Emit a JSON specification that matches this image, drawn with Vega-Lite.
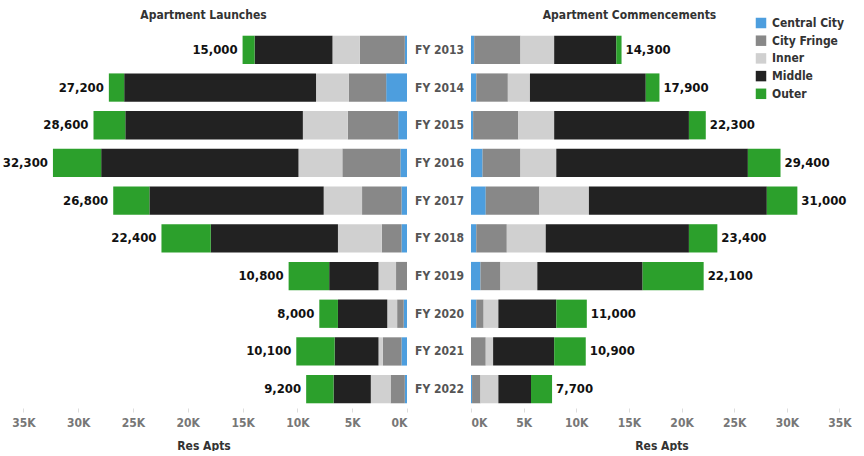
{
  "$schema": "https://vega.github.io/schema/vega-lite/v6.json",
  "autosize": {"type": "pad"},
  "padding": {"left": 0, "top": 9, "right": 0, "bottom": 0},
  "bounds": "flush",
  "spacing": 64,
  "config": {
    "font": "DejaVu Sans Condensed, Roboto, sans-serif",
    "view": {"stroke": null},
    "axis": {"labelFont": "DejaVu Sans Condensed, Roboto, sans-serif", "titleFont": "DejaVu Sans Condensed, Roboto, sans-serif"},
    "legend": {"labelFont": "DejaVu Sans Condensed, Roboto, sans-serif"},
    "title": {"font": "DejaVu Sans Condensed, Roboto, sans-serif"}
  },
  "datasets": {
    "apts": [
      {"panel": "Launches", "year": "FY 2013", "region": "Central City", "value": 200},
      {"panel": "Launches", "year": "FY 2013", "region": "City Fringe", "value": 4100},
      {"panel": "Launches", "year": "FY 2013", "region": "Inner", "value": 2500},
      {"panel": "Launches", "year": "FY 2013", "region": "Middle", "value": 7100},
      {"panel": "Launches", "year": "FY 2013", "region": "Outer", "value": 1100},
      {"panel": "Launches", "year": "FY 2014", "region": "Central City", "value": 1900},
      {"panel": "Launches", "year": "FY 2014", "region": "City Fringe", "value": 3400},
      {"panel": "Launches", "year": "FY 2014", "region": "Inner", "value": 3000},
      {"panel": "Launches", "year": "FY 2014", "region": "Middle", "value": 17500},
      {"panel": "Launches", "year": "FY 2014", "region": "Outer", "value": 1400},
      {"panel": "Launches", "year": "FY 2015", "region": "Central City", "value": 800},
      {"panel": "Launches", "year": "FY 2015", "region": "City Fringe", "value": 4600},
      {"panel": "Launches", "year": "FY 2015", "region": "Inner", "value": 4100},
      {"panel": "Launches", "year": "FY 2015", "region": "Middle", "value": 16200},
      {"panel": "Launches", "year": "FY 2015", "region": "Outer", "value": 2900},
      {"panel": "Launches", "year": "FY 2016", "region": "Central City", "value": 600},
      {"panel": "Launches", "year": "FY 2016", "region": "City Fringe", "value": 5300},
      {"panel": "Launches", "year": "FY 2016", "region": "Inner", "value": 4000},
      {"panel": "Launches", "year": "FY 2016", "region": "Middle", "value": 18000},
      {"panel": "Launches", "year": "FY 2016", "region": "Outer", "value": 4400},
      {"panel": "Launches", "year": "FY 2017", "region": "Central City", "value": 500},
      {"panel": "Launches", "year": "FY 2017", "region": "City Fringe", "value": 3600},
      {"panel": "Launches", "year": "FY 2017", "region": "Inner", "value": 3500},
      {"panel": "Launches", "year": "FY 2017", "region": "Middle", "value": 15900},
      {"panel": "Launches", "year": "FY 2017", "region": "Outer", "value": 3300},
      {"panel": "Launches", "year": "FY 2018", "region": "Central City", "value": 500},
      {"panel": "Launches", "year": "FY 2018", "region": "City Fringe", "value": 1800},
      {"panel": "Launches", "year": "FY 2018", "region": "Inner", "value": 4000},
      {"panel": "Launches", "year": "FY 2018", "region": "Middle", "value": 11600},
      {"panel": "Launches", "year": "FY 2018", "region": "Outer", "value": 4500},
      {"panel": "Launches", "year": "FY 2019", "region": "Central City", "value": 0},
      {"panel": "Launches", "year": "FY 2019", "region": "City Fringe", "value": 1000},
      {"panel": "Launches", "year": "FY 2019", "region": "Inner", "value": 1600},
      {"panel": "Launches", "year": "FY 2019", "region": "Middle", "value": 4500},
      {"panel": "Launches", "year": "FY 2019", "region": "Outer", "value": 3700},
      {"panel": "Launches", "year": "FY 2020", "region": "Central City", "value": 300},
      {"panel": "Launches", "year": "FY 2020", "region": "City Fringe", "value": 600},
      {"panel": "Launches", "year": "FY 2020", "region": "Inner", "value": 900},
      {"panel": "Launches", "year": "FY 2020", "region": "Middle", "value": 4500},
      {"panel": "Launches", "year": "FY 2020", "region": "Outer", "value": 1700},
      {"panel": "Launches", "year": "FY 2021", "region": "Central City", "value": 500},
      {"panel": "Launches", "year": "FY 2021", "region": "City Fringe", "value": 1700},
      {"panel": "Launches", "year": "FY 2021", "region": "Inner", "value": 400},
      {"panel": "Launches", "year": "FY 2021", "region": "Middle", "value": 4000},
      {"panel": "Launches", "year": "FY 2021", "region": "Outer", "value": 3500},
      {"panel": "Launches", "year": "FY 2022", "region": "Central City", "value": 200},
      {"panel": "Launches", "year": "FY 2022", "region": "City Fringe", "value": 1300},
      {"panel": "Launches", "year": "FY 2022", "region": "Inner", "value": 1800},
      {"panel": "Launches", "year": "FY 2022", "region": "Middle", "value": 3400},
      {"panel": "Launches", "year": "FY 2022", "region": "Outer", "value": 2500},
      {"panel": "Commencements", "year": "FY 2013", "region": "Central City", "value": 300},
      {"panel": "Commencements", "year": "FY 2013", "region": "City Fringe", "value": 4400},
      {"panel": "Commencements", "year": "FY 2013", "region": "Inner", "value": 3200},
      {"panel": "Commencements", "year": "FY 2013", "region": "Middle", "value": 5900},
      {"panel": "Commencements", "year": "FY 2013", "region": "Outer", "value": 500},
      {"panel": "Commencements", "year": "FY 2014", "region": "Central City", "value": 500},
      {"panel": "Commencements", "year": "FY 2014", "region": "City Fringe", "value": 3000},
      {"panel": "Commencements", "year": "FY 2014", "region": "Inner", "value": 2100},
      {"panel": "Commencements", "year": "FY 2014", "region": "Middle", "value": 11000},
      {"panel": "Commencements", "year": "FY 2014", "region": "Outer", "value": 1300},
      {"panel": "Commencements", "year": "FY 2015", "region": "Central City", "value": 200},
      {"panel": "Commencements", "year": "FY 2015", "region": "City Fringe", "value": 4300},
      {"panel": "Commencements", "year": "FY 2015", "region": "Inner", "value": 3400},
      {"panel": "Commencements", "year": "FY 2015", "region": "Middle", "value": 12800},
      {"panel": "Commencements", "year": "FY 2015", "region": "Outer", "value": 1600},
      {"panel": "Commencements", "year": "FY 2016", "region": "Central City", "value": 1100},
      {"panel": "Commencements", "year": "FY 2016", "region": "City Fringe", "value": 3600},
      {"panel": "Commencements", "year": "FY 2016", "region": "Inner", "value": 3400},
      {"panel": "Commencements", "year": "FY 2016", "region": "Middle", "value": 18200},
      {"panel": "Commencements", "year": "FY 2016", "region": "Outer", "value": 3100},
      {"panel": "Commencements", "year": "FY 2017", "region": "Central City", "value": 1400},
      {"panel": "Commencements", "year": "FY 2017", "region": "City Fringe", "value": 5100},
      {"panel": "Commencements", "year": "FY 2017", "region": "Inner", "value": 4700},
      {"panel": "Commencements", "year": "FY 2017", "region": "Middle", "value": 16900},
      {"panel": "Commencements", "year": "FY 2017", "region": "Outer", "value": 2900},
      {"panel": "Commencements", "year": "FY 2018", "region": "Central City", "value": 500},
      {"panel": "Commencements", "year": "FY 2018", "region": "City Fringe", "value": 2900},
      {"panel": "Commencements", "year": "FY 2018", "region": "Inner", "value": 3700},
      {"panel": "Commencements", "year": "FY 2018", "region": "Middle", "value": 13600},
      {"panel": "Commencements", "year": "FY 2018", "region": "Outer", "value": 2700},
      {"panel": "Commencements", "year": "FY 2019", "region": "Central City", "value": 900},
      {"panel": "Commencements", "year": "FY 2019", "region": "City Fringe", "value": 1900},
      {"panel": "Commencements", "year": "FY 2019", "region": "Inner", "value": 3500},
      {"panel": "Commencements", "year": "FY 2019", "region": "Middle", "value": 10000},
      {"panel": "Commencements", "year": "FY 2019", "region": "Outer", "value": 5800},
      {"panel": "Commencements", "year": "FY 2020", "region": "Central City", "value": 500},
      {"panel": "Commencements", "year": "FY 2020", "region": "City Fringe", "value": 700},
      {"panel": "Commencements", "year": "FY 2020", "region": "Inner", "value": 1400},
      {"panel": "Commencements", "year": "FY 2020", "region": "Middle", "value": 5500},
      {"panel": "Commencements", "year": "FY 2020", "region": "Outer", "value": 2900},
      {"panel": "Commencements", "year": "FY 2021", "region": "Central City", "value": 0},
      {"panel": "Commencements", "year": "FY 2021", "region": "City Fringe", "value": 1400},
      {"panel": "Commencements", "year": "FY 2021", "region": "Inner", "value": 700},
      {"panel": "Commencements", "year": "FY 2021", "region": "Middle", "value": 5800},
      {"panel": "Commencements", "year": "FY 2021", "region": "Outer", "value": 3000},
      {"panel": "Commencements", "year": "FY 2022", "region": "Central City", "value": 100},
      {"panel": "Commencements", "year": "FY 2022", "region": "City Fringe", "value": 800},
      {"panel": "Commencements", "year": "FY 2022", "region": "Inner", "value": 1700},
      {"panel": "Commencements", "year": "FY 2022", "region": "Middle", "value": 3100},
      {"panel": "Commencements", "year": "FY 2022", "region": "Outer", "value": 2000}
    ]
  },
  "hconcat": [
    {
      "width": 407,
      "height": 377,
      "data": {"name": "apts"},
      "transform": [{"filter": "datum.panel === 'Launches'"}],
      "title": {"text": "Apartment Launches", "fontSize": 12, "fontWeight": "bold", "color": "#333333", "offset": 9},
      "encoding": {
        "y": {"field": "year", "type": "nominal", "axis": null, "scale": {"paddingInner": 0.25, "paddingOuter": 0.125}}
      },
      "layer": [
        {
          "mark": {"type": "bar"},
          "encoding": {
            "x": {
              "field": "value", "type": "quantitative", "aggregate": "sum", "stack": "zero",
              "scale": {"domain": [0, 37130], "reverse": true, "nice": false},
              "axis": {
                "title": "Res Apts", "values": [0, 5000, 10000, 15000, 20000, 25000, 30000, 35000],
                "labelExpr": "datum.value / 1000 + 'K'", "grid": false, "domain": false,
                "tickSize": 4, "tickColor": "#dddddd", "labelPadding": 5,
                "labelFontSize": 12, "labelFontWeight": "bold", "labelColor": "#777777",
                "titleFontSize": 12, "titleFontWeight": "bold", "titleColor": "#333333", "titlePadding": 12
              }
            },
            "color": {
              "field": "region", "type": "nominal",
              "scale": {
                "domain": ["Central City", "City Fringe", "Inner", "Middle", "Outer"],
                "range": ["#4d9ede", "#888888", "#d0d0d0", "#222222", "#2ca02c"]
              },
              "legend": {
                "title": null, "orient": "none", "legendX": 755, "legendY": -14, "padding": 0,
                "symbolType": "square", "symbolSize": 110, "symbolStrokeWidth": 0, "symbolOpacity": 1,
                "labelFontSize": 12, "labelFontWeight": "bold", "labelColor": "#333333",
                "labelOffset": 5, "rowPadding": 5.7
              }
            },
            "order": {"field": "region", "sort": "ascending"}
          }
        },
        {
          "mark": {"type": "text", "align": "right", "baseline": "middle", "dx": -5, "fontSize": 13, "fontWeight": "bold", "color": "#111111"},
          "encoding": {
            "x": {"field": "value", "type": "quantitative", "aggregate": "sum"},
            "text": {"field": "value", "type": "quantitative", "aggregate": "sum", "format": ",.0f"}
          }
        }
      ]
    },
    {
      "width": 381,
      "height": 377,
      "data": {"name": "apts"},
      "transform": [{"filter": "datum.panel === 'Commencements'"}],
      "title": {"text": "Apartment Commencements", "fontSize": 12, "fontWeight": "bold", "color": "#333333", "offset": 9, "dx": -32},
      "encoding": {
        "y": {
          "field": "year", "type": "nominal", "title": null,
          "scale": {"paddingInner": 0.25, "paddingOuter": 0.125},
          "axis": {"domain": false, "ticks": false, "labelAlign": "center", "labelPadding": 32,
                   "labelFontSize": 12, "labelFontWeight": "bold", "labelColor": "#555555"}
        }
      },
      "layer": [
        {
          "mark": {"type": "bar"},
          "encoding": {
            "x": {
              "field": "value", "type": "quantitative", "aggregate": "sum", "stack": "zero",
              "scale": {"domain": [0, 36190], "nice": false},
              "axis": {
                "title": "Res Apts", "values": [0, 5000, 10000, 15000, 20000, 25000, 30000, 35000],
                "labelExpr": "datum.value / 1000 + 'K'", "grid": false, "domain": false,
                "tickSize": 4, "tickColor": "#dddddd", "labelPadding": 5,
                "labelFontSize": 12, "labelFontWeight": "bold", "labelColor": "#777777",
                "titleFontSize": 12, "titleFontWeight": "bold", "titleColor": "#333333", "titlePadding": 12
              }
            },
            "color": {
              "field": "region", "type": "nominal",
              "scale": {
                "domain": ["Central City", "City Fringe", "Inner", "Middle", "Outer"],
                "range": ["#4d9ede", "#888888", "#d0d0d0", "#222222", "#2ca02c"]
              },
              "legend": {
                "title": null, "orient": "none", "legendX": 755, "legendY": -14, "padding": 0,
                "symbolType": "square", "symbolSize": 110, "symbolStrokeWidth": 0, "symbolOpacity": 1,
                "labelFontSize": 12, "labelFontWeight": "bold", "labelColor": "#333333",
                "labelOffset": 5, "rowPadding": 5.7
              }
            },
            "order": {"field": "region", "sort": "ascending"}
          }
        },
        {
          "mark": {"type": "text", "align": "left", "baseline": "middle", "dx": 4, "fontSize": 13, "fontWeight": "bold", "color": "#111111"},
          "encoding": {
            "x": {"field": "value", "type": "quantitative", "aggregate": "sum"},
            "text": {"field": "value", "type": "quantitative", "aggregate": "sum", "format": ",.0f"}
          }
        }
      ]
    }
  ]
}
